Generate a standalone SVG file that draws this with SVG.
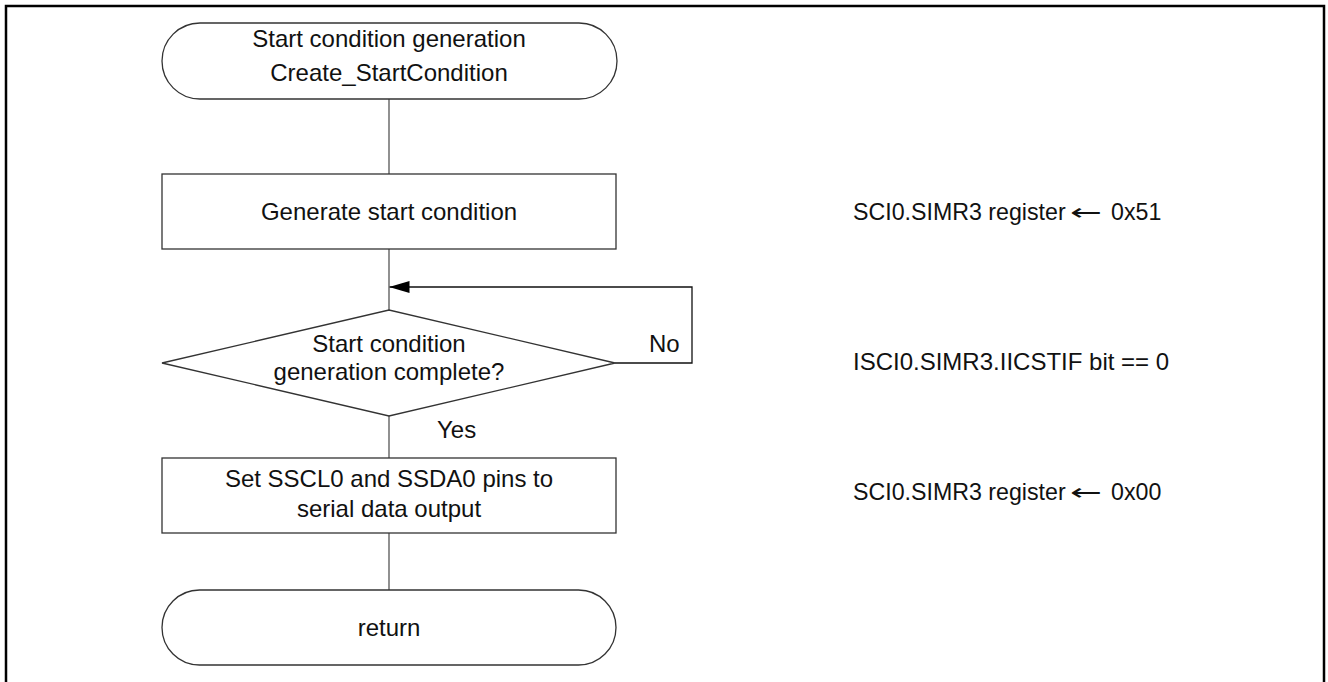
<svg xmlns="http://www.w3.org/2000/svg" width="1328" height="682" viewBox="0 0 1328 682">
  <style>
    text { font-family: "Liberation Sans", Arial, sans-serif; font-size: 24px; fill: #111; }
    .c { text-anchor: middle; }
    .note { font-size: 23.2px; }
    .arr { font-family: "DejaVu Sans", sans-serif; font-size: 23px; }
    .shape { fill: #fff; stroke: #333; stroke-width: 1.3; }
    .conn { fill: none; stroke: #555; stroke-width: 1.3; }
    .loop { fill: none; stroke: #111; stroke-width: 1.3; }
  </style>
  <defs>
    <marker id="arrow" viewBox="0 0 20 12" refX="20" refY="6" markerWidth="20" markerHeight="12" markerUnits="userSpaceOnUse" orient="auto">
      <path d="M0,0 L20,6 L0,12 Z" fill="#000"/>
    </marker>
  </defs>
  <rect width="1328" height="682" fill="#fff"/>
  <rect id="frame" x="6" y="6" width="1318" height="700" fill="none" stroke="#000" stroke-width="2.5"/>

  <g id="connectors">
    <line class="conn" x1="389" y1="99" x2="389" y2="174"/>
    <line class="conn" x1="389" y1="249" x2="389" y2="310"/>
    <line class="conn" x1="389" y1="416" x2="389" y2="458"/>
    <line class="conn" x1="389" y1="533" x2="389" y2="590"/>
    <polyline class="loop" points="615,363 692,363 692,287 389.5,287" marker-end="url(#arrow)"/>
    <text x="649" y="352">No</text>
    <text x="437" y="438">Yes</text>
  </g>

  <g id="start">
    <rect class="shape" x="162" y="23" width="455" height="76" rx="38" ry="38"/>
    <text class="c" x="389" y="47">Start condition generation</text>
    <text class="c" x="389" y="81">Create_StartCondition</text>
  </g>

  <g id="generate">
    <rect class="shape" x="162" y="174" width="454" height="75"/>
    <text class="c" x="389" y="220">Generate start condition</text>
  </g>

  <g id="decision">
    <polygon class="shape" points="162,363 389,310 615,363 389,416"/>
    <text class="c" x="389" y="352">Start condition</text>
    <text class="c" x="389" y="380">generation complete?</text>
  </g>

  <g id="setpins">
    <rect class="shape" x="162" y="458" width="454" height="75"/>
    <text class="c" x="389" y="487">Set SSCL0 and SSDA0 pins to</text>
    <text class="c" x="389" y="517">serial data output</text>
  </g>

  <g id="return">
    <rect class="shape" x="162" y="590" width="454" height="75" rx="37.5" ry="37.5"/>
    <text class="c" x="389" y="636">return</text>
  </g>

  <g id="notes">
    <text class="note" x="853" y="220">SCI0.SIMR3 register <tspan class="arr" x="1070" textLength="32" lengthAdjust="spacingAndGlyphs">←</tspan><tspan x="1111">0x51</tspan></text>
    <text x="853" y="370">ISCI0.SIMR3.IICSTIF bit == 0</text>
    <text class="note" x="853" y="500">SCI0.SIMR3 register <tspan class="arr" x="1070" textLength="32" lengthAdjust="spacingAndGlyphs">←</tspan><tspan x="1111">0x00</tspan></text>
  </g>
</svg>
